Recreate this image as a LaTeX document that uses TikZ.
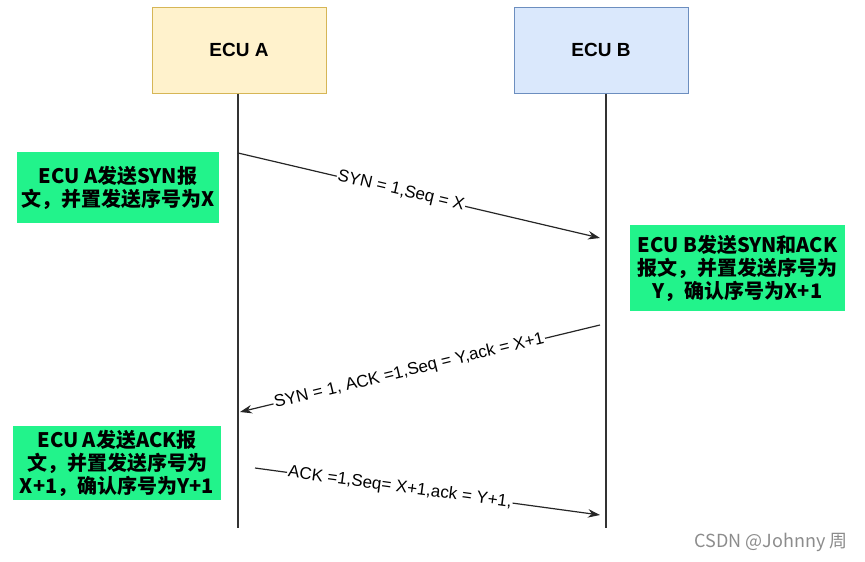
\documentclass[tikz,border=0pt]{standalone}
\usepackage{fontspec}
\setmainfont{Liberation Sans}
\newfontfamily\cjk{Noto Sans CJK SC}
\usetikzlibrary{arrows.meta}
\definecolor{ecuAfill}{HTML}{FFF2CC}
\definecolor{ecuAline}{HTML}{D6B656}
\definecolor{ecuBfill}{HTML}{DAE8FC}
\definecolor{ecuBline}{HTML}{6C8EBF}
\definecolor{notegreen}{HTML}{22F38B}

\begin{document}
\begin{tikzpicture}[x=1pt,y=-1pt,>={Stealth[length=12pt,width=8.5pt]},
 ecu/.style={draw,line width=1pt,minimum width=174pt,minimum height=86pt,font=\fontsize{19}{21}\selectfont\bfseries},
 note/.style={fill=notegreen,align=center,inner sep=0pt,font=\cjk\fontsize{20}{23}\selectfont\bfseries},
 life/.style={line width=1.2pt,draw=black!80},
 msg/.style={->,line width=1.2pt,draw=black!85},
 lbl/.style={sloped,fill=white,inner sep=1pt,font=\fontsize{17}{19}\selectfont}]
\useasboundingbox (0,0) rectangle (865,562);
% participants
\node[ecu,fill=ecuAfill,draw=ecuAline] (ecuA) at (239,50) {ECU A};
\node[ecu,fill=ecuBfill,draw=ecuBline] (ecuB) at (601,50) {ECU B};
\coordinate (endA) at (238,528);
\coordinate (endB) at (606,528);
\draw[life] (ecuA.south -| endA) -- (endA);
\draw[life] (ecuB.south -| endB) -- (endB);
% notes
\node[note,minimum width=202pt,minimum height=71pt] (noteA1) at (118,187.5) {ECU A发送SYN报\\文，并置发送序号为X};
\node[note,minimum width=215pt,minimum height=86pt] (noteB) at (737.5,268) {ECU B发送SYN和ACK\\报文，并置发送序号为\\Y，确认序号为X+1};
\node[note,minimum width=208pt,minimum height=74pt] (noteA2) at (117,463) {ECU A发送ACK报\\文，并置发送序号为\\X+1，确认序号为Y+1};
% messages
\coordinate (s1) at (238,153); \coordinate (t1) at (600,238);
\coordinate (s2) at (600,325); \coordinate (t2) at (240,412);
\coordinate (s3) at (255,468); \coordinate (t3) at (600,515);
\draw[msg] (s1) -- node[lbl,pos=0.45] {SYN = 1,Seq = X} (t1);
\draw[msg] (s2) -- node[lbl,pos=0.53] {SYN = 1, ACK =1,Seq = Y,ack = X+1} (t2);
\draw[msg] (s3) -- node[lbl,pos=0.42] {ACK =1,Seq= X+1,ack = Y+1,} (t3);
% watermark
\node[anchor=east,text=black!45,font=\cjk\fontsize{18}{20}\selectfont] (mark) at (851,542) {CSDN @Johnny 周};
\end{tikzpicture}
\end{document}
